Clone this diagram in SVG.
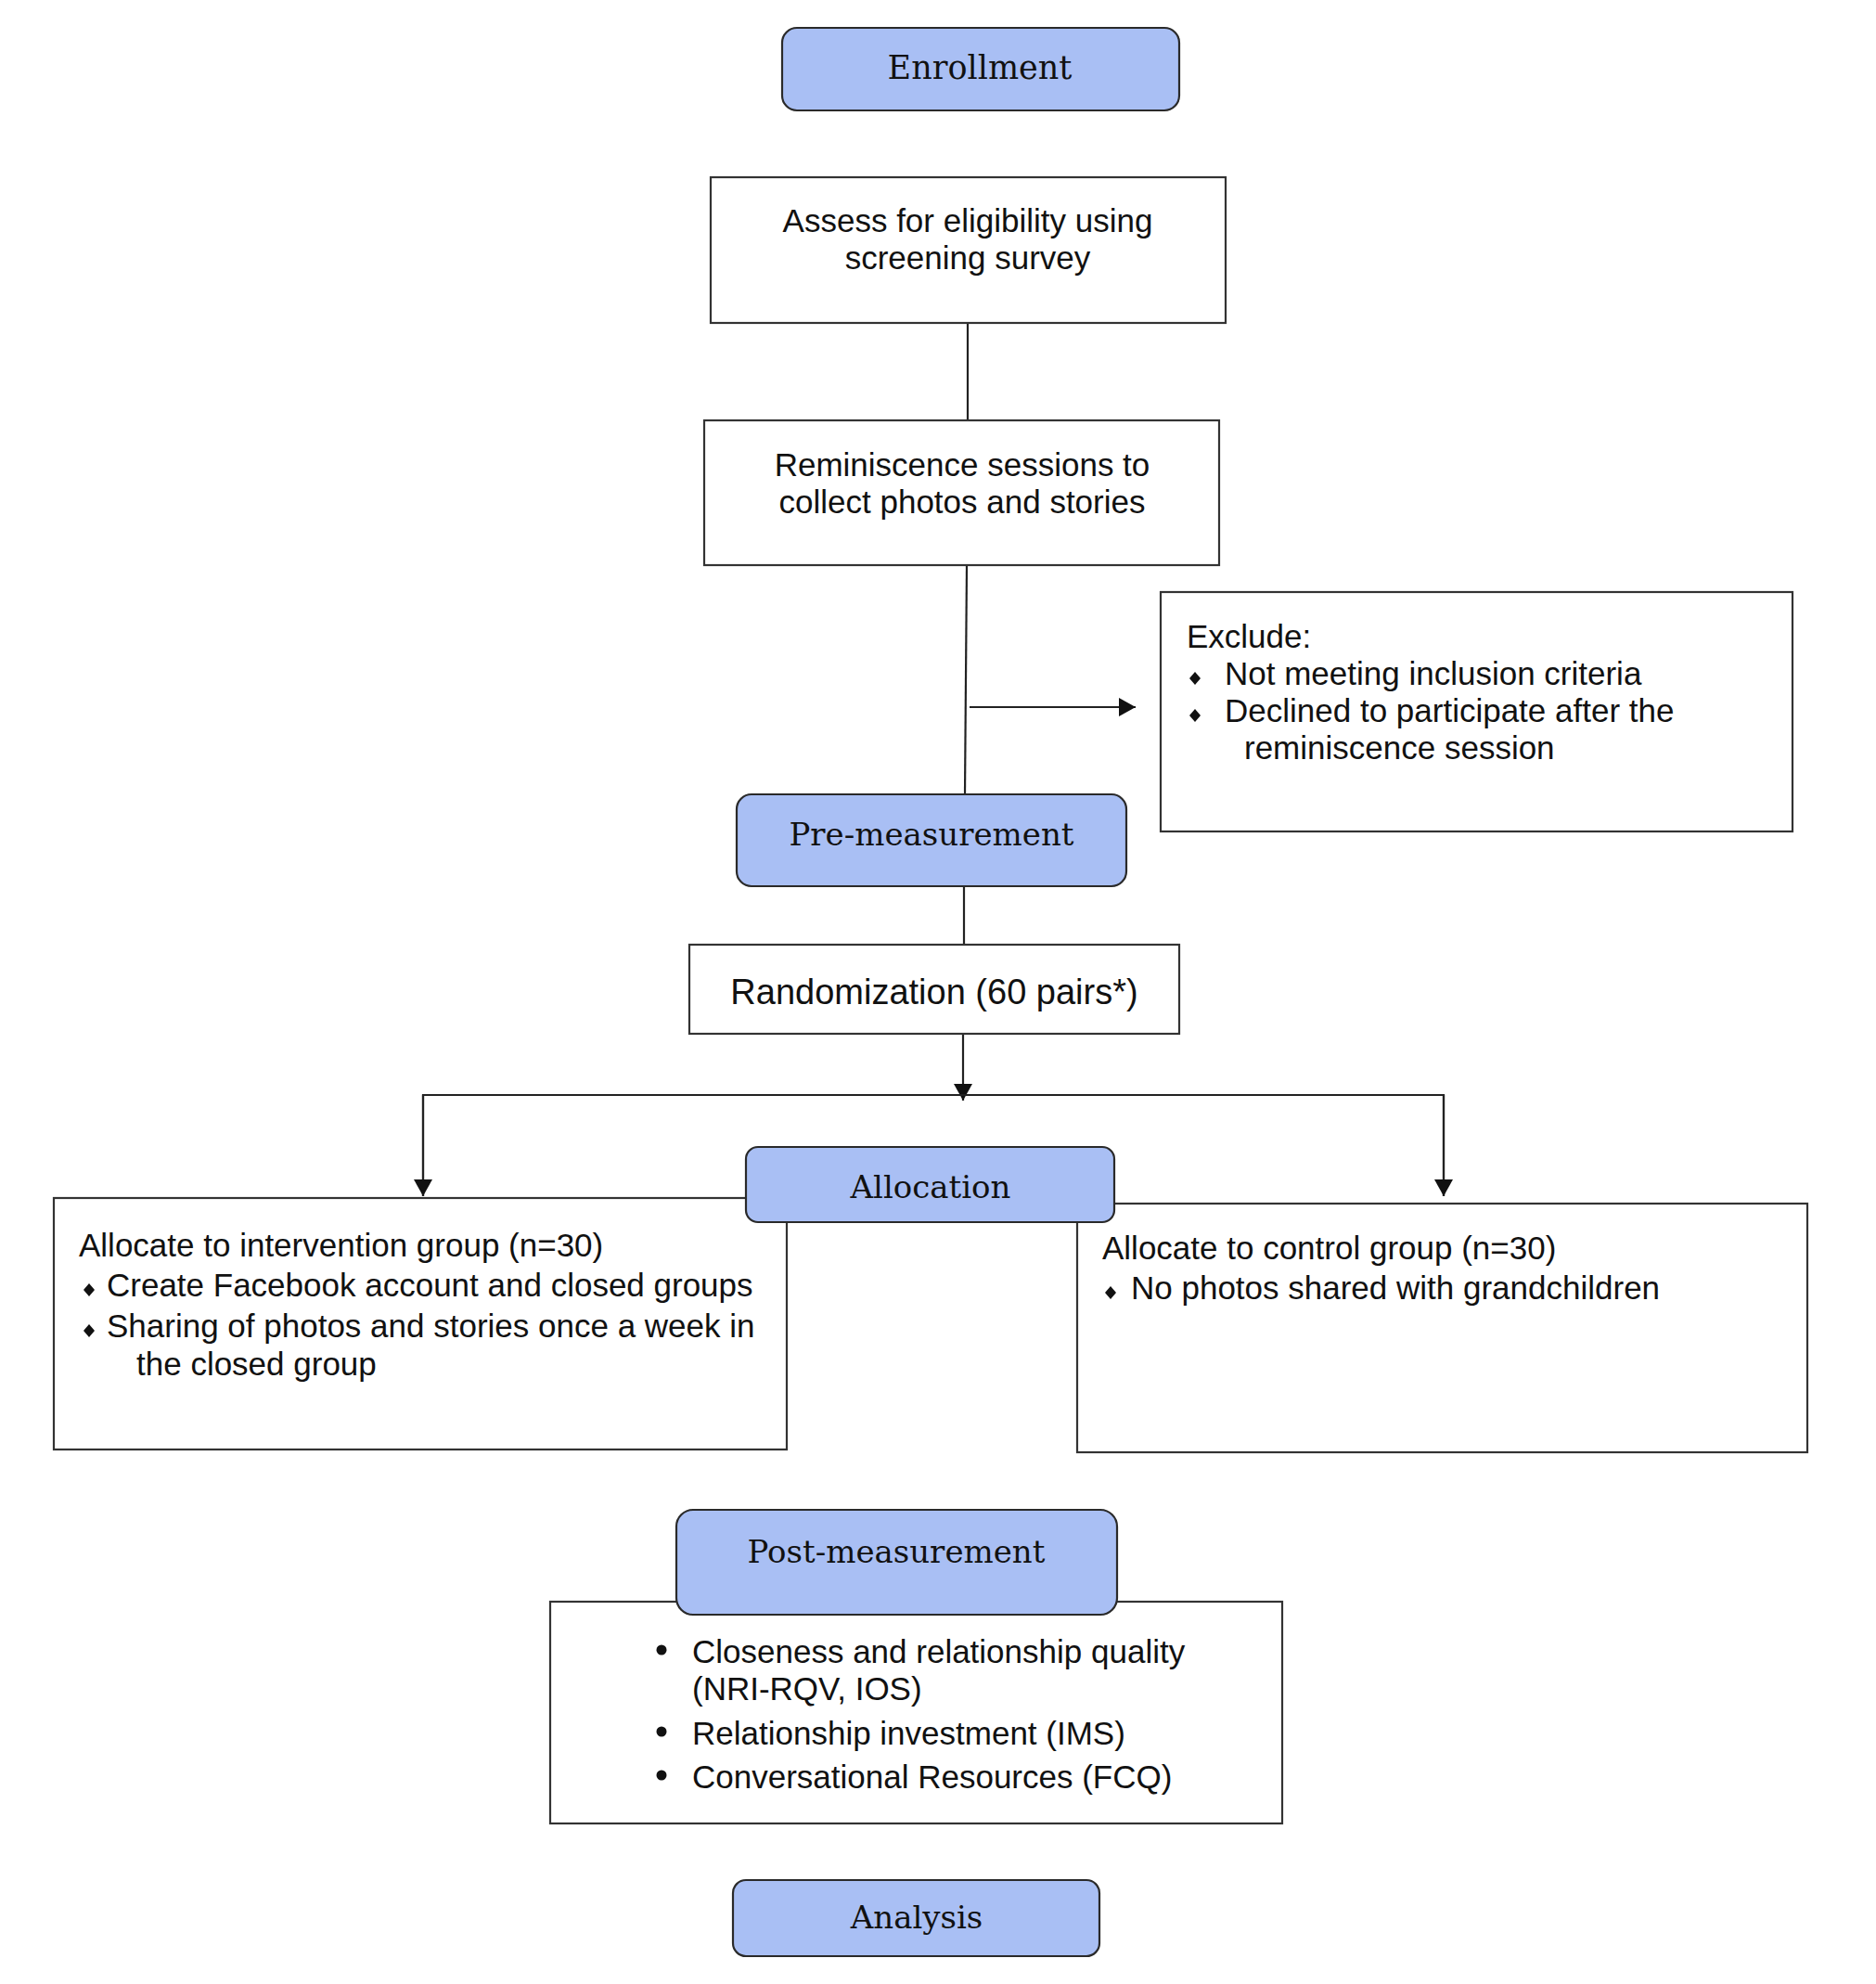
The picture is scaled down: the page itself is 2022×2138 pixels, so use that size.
<svg xmlns="http://www.w3.org/2000/svg" width="2022" height="2138" viewBox="0 0 2022 2138">
<style>
.box{fill:#ffffff;stroke:#333333;stroke-width:2.2}
.phase{fill:#A9BFF4;stroke:#2a2a2a;stroke-width:2.2}
.t{font-family:"Liberation Sans",Arial,sans-serif;font-size:35px;fill:#111111}
.s{font-family:"DejaVu Serif",Georgia,serif;font-size:34px;fill:#111111;text-anchor:middle}
.c{text-anchor:middle}
.ln{stroke:#222222;stroke-width:2.2;fill:none}
.dia{fill:#111111}
</style>
<defs>
<marker id="arr" markerUnits="userSpaceOnUse" markerWidth="20" markerHeight="20" viewBox="0 0 20 20" refX="18" refY="10" orient="auto">
<path d="M0,0 L18,10 L0,20 Z" fill="#111111"/>
</marker>
</defs>
<rect width="2022" height="2138" fill="#ffffff"/>

<g id="connectors">
<line class="ln" x1="1043" y1="348" x2="1043" y2="453"/>
<line class="ln" x1="1042" y1="609" x2="1040" y2="856"/>
<line class="ln" x1="1045" y1="762" x2="1224" y2="762" marker-end="url(#arr)"/>
<line class="ln" x1="1039" y1="955" x2="1039" y2="1018"/>
<line class="ln" x1="1038" y1="1114" x2="1038" y2="1186" marker-end="url(#arr)"/>
<polyline class="ln" points="456,1289 456,1180 1556,1180 1556,1289"/>
<line class="ln" x1="456" y1="1180" x2="456" y2="1289" marker-end="url(#arr)"/>
<line class="ln" x1="1556" y1="1180" x2="1556" y2="1289" marker-end="url(#arr)"/>
</g>

<g id="enrollment">
<rect class="phase" x="843" y="30" width="428" height="89" rx="16"/>
<text class="s" x="1056" y="85" style="font-size:35px">Enrollment</text>
</g>

<g id="assess">
<rect class="box" x="766" y="191" width="555" height="157"/>
<text class="t c" x="1043" y="250">Assess for eligibility using</text>
<text class="t c" x="1043" y="290">screening survey</text>
</g>

<g id="reminiscence">
<rect class="box" x="759" y="453" width="555" height="156"/>
<text class="t c" x="1037" y="513">Reminiscence sessions to</text>
<text class="t c" x="1037" y="553">collect photos and stories</text>
</g>

<g id="exclude">
<rect class="box" x="1251" y="638" width="681" height="258"/>
<text class="t" x="1279" y="698">Exclude:</text>
<polygon class="dia" points="1288,724 1294,731 1288,738 1282,731"/>
<text class="t" x="1320" y="738">Not meeting inclusion criteria</text>
<polygon class="dia" points="1288,764 1294,771 1288,778 1282,771"/>
<text class="t" x="1320" y="778">Declined to participate after the</text>
<text class="t" x="1341" y="818">reminiscence session</text>
</g>

<g id="pre-measurement">
<rect class="phase" x="794" y="856" width="420" height="99" rx="16"/>
<text class="s" x="1004" y="911">Pre-measurement</text>
</g>

<g id="randomization">
<rect class="box" x="743" y="1018" width="528" height="96"/>
<text class="t c" x="1007" y="1082" style="font-size:38px">Randomization (60 pairs*)</text>
</g>

<g id="intervention">
<rect class="box" x="58" y="1291" width="790" height="271"/>
<text class="t" x="85" y="1354">Allocate to intervention group (n=30)</text>
<polygon class="dia" points="96,1383 102,1390 96,1397 90,1390"/>
<text class="t" x="115" y="1397">Create Facebook account and closed groups</text>
<polygon class="dia" points="96,1427 102,1434 96,1441 90,1434"/>
<text class="t" x="115" y="1441">Sharing of photos and stories once a week in</text>
<text class="t" x="147" y="1482">the closed group</text>
</g>

<g id="control">
<rect class="box" x="1161" y="1297" width="787" height="268"/>
<text class="t" x="1188" y="1357">Allocate to control group (n=30)</text>
<polygon class="dia" points="1197,1386 1203,1393 1197,1400 1191,1393"/>
<text class="t" x="1219" y="1400">No photos shared with grandchildren</text>
</g>

<g id="allocation">
<rect class="phase" x="804" y="1236" width="397" height="81" rx="13"/>
<text class="s" x="1003" y="1291">Allocation</text>
</g>

<g id="post-box">
<rect class="box" x="593" y="1726" width="789" height="239"/>
<circle class="dia" cx="713" cy="1778" r="5.5"/>
<text class="t" x="746" y="1792">Closeness and relationship quality</text>
<text class="t" x="746" y="1832">(NRI-RQV, IOS)</text>
<circle class="dia" cx="713" cy="1866" r="5.5"/>
<text class="t" x="746" y="1880">Relationship investment (IMS)</text>
<circle class="dia" cx="713" cy="1913" r="5.5"/>
<text class="t" x="746" y="1927">Conversational Resources (FCQ)</text>
</g>

<g id="post-measurement">
<rect class="phase" x="729" y="1627" width="475" height="113" rx="18"/>
<text class="s" x="966" y="1684">Post-measurement</text>
</g>

<g id="analysis">
<rect class="phase" x="790" y="2026" width="395" height="82" rx="14"/>
<text class="s" x="988" y="2078">Analysis</text>
</g>
</svg>
